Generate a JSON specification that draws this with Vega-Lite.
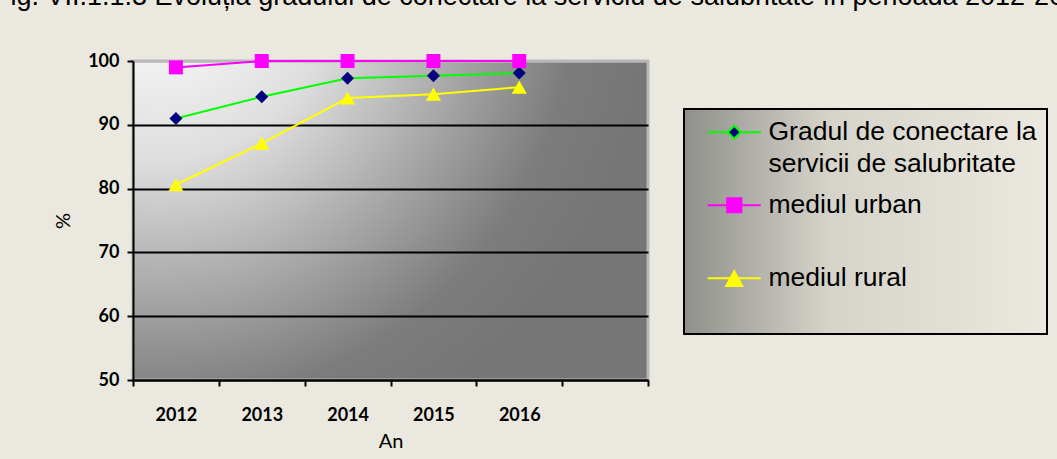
{
  "$schema": "https://vega.github.io/schema/vega-lite/v6.json",
  "width": 515,
  "height": 319,
  "autosize": {"type": "none"},
  "padding": {"left": 133, "top": 61, "right": 409, "bottom": 79},
  "background": "#ebe9df",
  "title": {
    "text": "Fig. VII.1.1.3 Evoluția gradului de conectare la serviciu de salubritate în perioada 2012-2016",
    "anchor": "start",
    "frame": "group",
    "font": "Liberation Sans",
    "fontSize": 27,
    "fontWeight": "normal",
    "color": "black",
    "baseline": "alphabetic",
    "offset": 0,
    "dx": -139,
    "dy": -20
  },
  "config": {
    "view": {
      "fill": {
        "gradient": "radial",
        "x1": 0.05, "y1": 0.05, "r1": 0,
        "x2": 0.05, "y2": 0.05, "r2": 0.95,
        "stops": [
          {"offset": 0, "color": "#ffffff"},
          {"offset": 0.35, "color": "#dedede"},
          {"offset": 0.6, "color": "#acacac"},
          {"offset": 0.85, "color": "#7c7c7c"},
          {"offset": 1, "color": "#767676"}
        ]
      },
      "stroke": "#b8b8b8",
      "strokeWidth": 3
    },
    "axis": {
      "domainColor": "black",
      "domainWidth": 2,
      "tickColor": "black",
      "tickWidth": 2,
      "tickSize": 6,
      "labelFont": "Lato",
      "labelFontWeight": "bold",
      "labelFontSize": 18,
      "labelColor": "black",
      "titleFont": "Lato",
      "titleFontWeight": "normal",
      "titleFontSize": 20,
      "titleColor": "black"
    },
    "legend": {"strokeWidth": 2}
  },
  "data": {
    "values": [
      {"series": "Gradul de conectare la servicii de salubritate", "year": "2012", "value": 91.0},
      {"series": "Gradul de conectare la servicii de salubritate", "year": "2013", "value": 94.4},
      {"series": "Gradul de conectare la servicii de salubritate", "year": "2014", "value": 97.3},
      {"series": "Gradul de conectare la servicii de salubritate", "year": "2015", "value": 97.7},
      {"series": "Gradul de conectare la servicii de salubritate", "year": "2016", "value": 98.1},
      {"series": "mediul urban", "year": "2012", "value": 99.0},
      {"series": "mediul urban", "year": "2013", "value": 100.0},
      {"series": "mediul urban", "year": "2014", "value": 100.0},
      {"series": "mediul urban", "year": "2015", "value": 100.0},
      {"series": "mediul urban", "year": "2016", "value": 100.0},
      {"series": "mediul rural", "year": "2012", "value": 80.6},
      {"series": "mediul rural", "year": "2013", "value": 87.1},
      {"series": "mediul rural", "year": "2014", "value": 94.2},
      {"series": "mediul rural", "year": "2015", "value": 94.8},
      {"series": "mediul rural", "year": "2016", "value": 95.9}
    ]
  },
  "encoding": {
    "x": {
      "field": "year",
      "type": "ordinal",
      "scale": {"type": "band", "domain": ["2012", "2013", "2014", "2015", "2016", ""], "paddingInner": 0, "paddingOuter": 0},
      "axis": {"title": "An", "labelAngle": 0, "tickBand": "extent", "labelPadding": 20, "titlePadding": 7, "grid": false}
    },
    "y": {
      "field": "value",
      "type": "quantitative",
      "scale": {"domain": [50, 100], "nice": false, "zero": false},
      "axis": {
        "title": "%",
        "values": [50, 60, 70, 80, 90, 100],
        "labelPadding": 8,
        "titlePadding": 14,
        "grid": true,
        "gridWidth": 2,
        "gridColor": {"condition": {"test": "datum.value == 100", "value": "#b8b8b8"}, "value": "black"}
      }
    }
  },
  "layer": [
    {
      "mark": {"type": "line", "strokeWidth": 2},
      "encoding": {
        "stroke": {
          "field": "series",
          "type": "nominal",
          "scale": {
            "domain": ["Gradul de conectare la servicii de salubritate", "mediul urban", "mediul rural"],
            "range": ["#00ff00", "#ff00ff", "#ffff00"]
          },
          "legend": {
            "title": null,
            "orient": "none",
            "legendX": 551,
            "legendY": 48,
            "direction": "vertical",
            "padding": 10,
            "fillColor": "#d4d2c8",
            "strokeColor": "black",
            "symbolSize": 557,
            "symbolStrokeWidth": 2,
            "symbolOffset": 27,
            "labelOffset": 21,
            "labelFont": "Liberation Sans",
            "labelFontSize": 26.5,
            "labelColor": "black",
            "labelLimit": 400,
            "rowPadding": 14,
            "gridAlign": "all",
            "labelExpr": "datum.label == 'Gradul de conectare la servicii de salubritate' ? ['Gradul de conectare la', 'servicii de salubritate'] : datum.label == 'mediul rural' ? ['mediul rural', ''] : datum.label",
            "encode": {
              "legend": {
                "update": {
                  "fill": {
                    "value": {
                      "gradient": "linear",
                      "x1": 0, "y1": 0, "x2": 1, "y2": 0,
                      "stops": [
                        {"offset": 0, "color": "#8f8f8b"},
                        {"offset": 0.4, "color": "#d6d4ca"},
                        {"offset": 1, "color": "#ebe9df"}
                      ]
                    }
                  }
                }
              },
              "labels": {"update": {"lineHeight": {"value": 32}}},
              "symbols": {
                "update": {
                  "shape": {"signal": "datum.value == 'mediul urban' ? 'M-2.25,0H-0.6M0.6,0H2.25M-0.6,-0.6H0.6V0.6H-0.6Z' : datum.value == 'mediul rural' ? 'M-2.25,0H2.25M0,-0.6L0.68,0.66H-0.68Z' : 'M-2.25,0H-0.55M0.55,0H2.25M0,-0.55L0.55,0L0,0.55L-0.55,0Z'"},
                  "fill": {"signal": "datum.value == 'mediul urban' ? '#ff00ff' : datum.value == 'mediul rural' ? '#ffff00' : '#000080'"},
                  "strokeWidth": {"value": 2},
                  "opacity": {"value": 1}
                }
              }
            }
          }
        }
      }
    },
    {
      "transform": [{"filter": "datum.series == 'Gradul de conectare la servicii de salubritate'"}],
      "mark": {"type": "point", "filled": true, "opacity": 1, "strokeWidth": 0, "shape": "diamond", "size": 169, "fill": "#000080"},
      "encoding": {}
    },
    {
      "transform": [{"filter": "datum.series == 'mediul urban'"}],
      "mark": {"type": "point", "filled": true, "opacity": 1, "strokeWidth": 0, "shape": "square", "size": 196, "fill": "#ff00ff"},
      "encoding": {}
    },
    {
      "transform": [{"filter": "datum.series == 'mediul rural'"}],
      "mark": {"type": "point", "filled": true, "opacity": 1, "strokeWidth": 0, "shape": "triangle-up", "size": 230, "fill": "#ffff00"},
      "encoding": {}
    }
  ]
}
